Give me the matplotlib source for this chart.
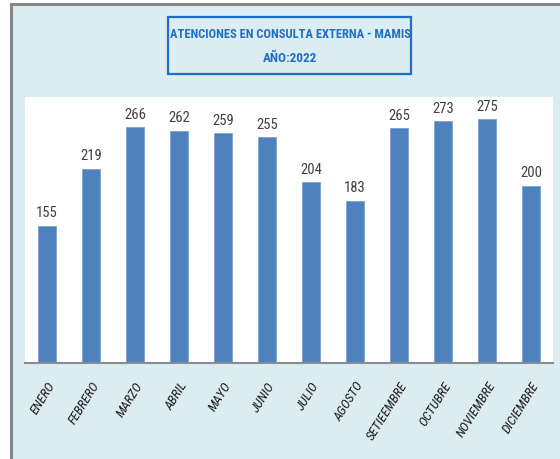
import matplotlib
matplotlib.use("Agg")
import matplotlib.pyplot as plt
from matplotlib.patches import Rectangle
from matplotlib.lines import Line2D
import numpy as np

meses = ["ENERO", "FEBRERO", "MARZO", "ABRIL", "MAYO", "JUNIO", "JULIO",
         "AGOSTO", "SETIEEMBRE", "OCTUBRE", "NOVIEMBRE", "DICIEMBRE"]
atenciones = [155, 219, 266, 262, 259, 255, 204, 183, 265, 273, 275, 200]
titulo1 = "ATENCIONES EN CONSULTA EXTERNA - MAMIS"
titulo2 = "AÑO:2022"

plt.rcParams['font.family'] = ['Roboto Condensed', 'DejaVu Sans']

W, H = 560, 459
fig = plt.figure(figsize=(W / 100, H / 100), dpi=100)
fig.patch.set_facecolor("white")

# fondo celeste con borde gris arriba e izquierda
fig.patches.append(Rectangle((11 / W, 0), 1 - 11 / W, (H - 4) / H,
                             transform=fig.transFigure, facecolor="#dbecf3",
                             edgecolor="none", zorder=-2))
fig.lines.append(Line2D([11 / W, 1], [(H - 4) / H] * 2, transform=fig.transFigure,
                        color="#868686", lw=2.2, zorder=-1))
fig.lines.append(Line2D([11 / W] * 2, [0, (H - 4) / H], transform=fig.transFigure,
                        color="#868686", lw=2.2, zorder=-1))

ax = fig.add_axes([25 / W, (H - 363) / H, 528 / W, 266 / H])
ax.set_zorder(1)
ax.set_facecolor("white")

x = np.arange(len(meses))
ax.bar(x, atenciones, width=0.4, color="#4f81bd", edgecolor="#7aa3d4",
       linewidth=0.6, zorder=2)
for xi, v in zip(x, atenciones):
    ax.text(xi, v + 6, str(v), ha="center", va="bottom", fontsize=10.5,
            color="#404040")

ax.set_xlim(-0.5, len(meses) - 0.5)
ax.set_ylim(0, 300)
ax.set_yticks([])
ax.set_xticks(x)
ax.set_xticklabels(meses, rotation=58, ha="right", rotation_mode="anchor",
                   fontsize=9.5, style="italic", color="#1a1a1a")
ax.tick_params(axis="x", length=0, pad=12)
for s in ["top", "right", "left"]:
    ax.spines[s].set_visible(False)
ax.spines["bottom"].set_color("#8c8c8c")
ax.spines["bottom"].set_linewidth(1.5)

# titulo en recuadro
fig.patches.append(Rectangle((168 / W, 1 - 74 / H), 243 / W, 57 / H,
                             transform=fig.transFigure, facecolor="#dbecf3",
                             edgecolor="#1f6fc0", linewidth=1.6, zorder=2))
fig.text(290 / W, 1 - 34 / H, titulo1, ha="center", va="center", fontsize=9,
         fontweight="bold", color="#1f6fc0", zorder=3)
fig.text(290 / W, 1 - 59 / H, titulo2, ha="center", va="center", fontsize=9.5,
         fontweight="bold", color="#1f6fc0", zorder=3)

fig.savefig("out.png", dpi=100)
